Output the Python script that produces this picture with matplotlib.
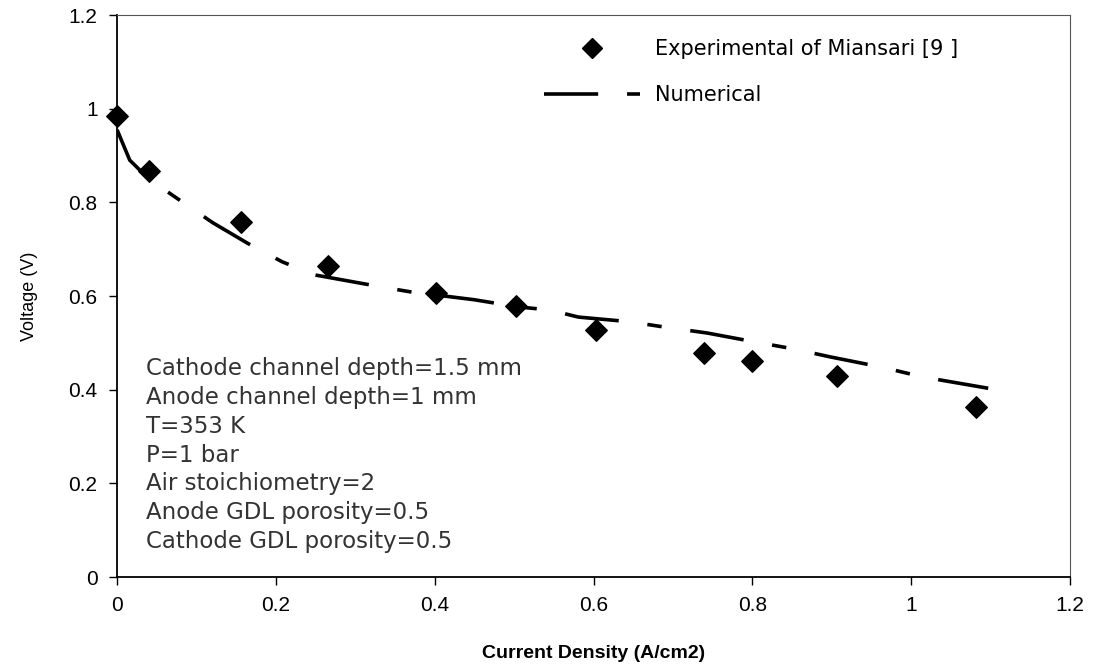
import matplotlib.pyplot as plt
from matplotlib.lines import Line2D

# Experimental polarisation data (Miansari [9])
exp_current = [0.0, 0.04, 0.156, 0.266, 0.402, 0.502, 0.603, 0.739, 0.80, 0.907, 1.082]
exp_voltage = [0.985, 0.867, 0.758, 0.664, 0.606, 0.579, 0.527, 0.478, 0.461, 0.429, 0.363]

# Numerical curve
num_current = [0.0, 0.016, 0.04, 0.088, 0.121, 0.165, 0.208, 0.249, 0.334, 0.369,
               0.45, 0.504, 0.545, 0.581, 0.646, 0.688, 0.743, 0.803, 0.852,
               0.898, 0.963, 1.015, 1.097]
num_voltage = [0.955, 0.89, 0.85, 0.794, 0.756, 0.712, 0.673, 0.645, 0.619, 0.609,
               0.592, 0.577, 0.570, 0.555, 0.545, 0.534, 0.521, 0.502, 0.487,
               0.470, 0.448, 0.427, 0.403]

conditions = ["Cathode channel depth=1.5 mm",
              "Anode channel depth=1 mm",
              "T=353 K",
              "P=1 bar",
              "Air stoichiometry=2",
              "Anode GDL porosity=0.5",
              "Cathode GDL porosity=0.5"]

narrow = ['Liberation Sans Narrow', 'Liberation Sans', 'DejaVu Sans']
dash_style = (15, 8, 4, 8)

fig = plt.figure(figsize=(10.97, 6.70), dpi=100)
ax = fig.add_axes([0.1067, 0.1388, 0.8687, 0.8388])

ax.plot(num_current, num_voltage, color='black', linewidth=2.6,
        dashes=dash_style, solid_capstyle='butt')
ax.scatter(exp_current, exp_voltage, marker='D', s=120, color='black', zorder=3,
           clip_on=False)

ax.set_xlim(0, 1.2)
ax.set_ylim(0, 1.2)
ax.set_xticks([0, 0.2, 0.4, 0.6, 0.8, 1, 1.2])
ax.set_xticklabels(['0', '0.2', '0.4', '0.6', '0.8', '1', '1.2'])
ax.set_yticks([0, 0.2, 0.4, 0.6, 0.8, 1, 1.2])
ax.set_yticklabels(['0', '0.2', '0.4', '0.6', '0.8', '1', '1.2'])
ax.tick_params(direction='out', length=6, width=1, labelsize=15, pad=8)
for lab in ax.get_xticklabels() + ax.get_yticklabels():
    lab.set_family(narrow)
for side in ['left', 'bottom']:
    ax.spines[side].set_linewidth(1.3)
for side in ['top', 'right']:
    ax.spines[side].set_linewidth(0.8)
    ax.spines[side].set_color('#555555')

ax.set_xlabel('Current Density (A/cm2)', fontsize=14, fontweight='bold',
              family=narrow, labelpad=21)
ax.set_ylabel('Voltage (V)', fontsize=13, family=narrow, labelpad=22)

# condition text block
for i, line in enumerate(conditions):
    ax.text(0.037, 0.445 - i * 0.0615, line, fontsize=16.5, family='DejaVu Sans',
            color='#333333', va='center')

handles = [Line2D([], [], marker='D', color='black', linestyle='none', markersize=10),
           Line2D([], [], color='black', linewidth=2.6, dashes=dash_style)]
ax.legend(handles, ['Experimental of Miansari [9 ]', 'Numerical'],
          loc='upper right', bbox_to_anchor=(0.902, 0.99), frameon=False,
          handlelength=4.6, handletextpad=0.7, labelspacing=1.25,
          prop={'family': 'DejaVu Sans', 'size': 15})

fig.savefig('out.png', dpi=100)
